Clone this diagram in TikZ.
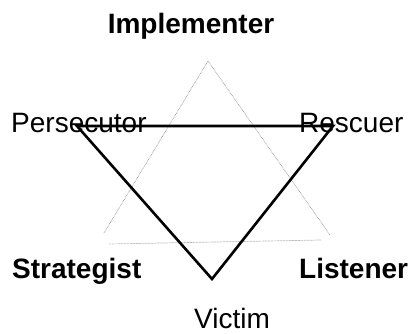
\documentclass[tikz,border=0pt]{standalone}
\usepackage{fontspec}
\setmainfont{Liberation Sans}
\usepackage{tikz}
\colorlet{roleline}{black}
\colorlet{guideline}{black!40}

\begin{document}
\begin{tikzpicture}[x=1pt,y=-1pt,
    label/.style={inner sep=0pt,font=\fontsize{28}{33}\selectfont},
    boldlabel/.style={label,font=\fontsize{28}{33}\selectfont\bfseries}]
  \useasboundingbox (0,0) rectangle (412,333);

  % outer roles
  \coordinate (top) at (208,61);
  \coordinate (ltop) at (104,233);
  \coordinate (rtop) at (330,235);
  \coordinate (lbase) at (109,244);
  \coordinate (rbase) at (321,240);

  % drama triangle
  \coordinate (pers) at (77,126);
  \coordinate (resc) at (333,126);
  \coordinate (vict) at (212,279);

  \draw[guideline,line width=0.7pt,dash pattern=on 0.7pt off 0.8pt]
    (ltop) -- (top) -- (rtop);
  \draw[guideline,line width=0.7pt,dash pattern=on 0.7pt off 0.8pt]
    (lbase) -- (rbase);

  \draw[roleline,line width=2.6pt,line join=miter]
    (pers) -- (resc) -- (vict) -- cycle;

  \node[boldlabel,anchor=base] (impl) at (191,33) {Implementer};
  \node[label,anchor=base west] (perslbl) at (11,132) {Persecutor};
  \node[label,anchor=base west] (resclbl) at (299,132) {Rescuer};
  \node[boldlabel,anchor=base west] (strat) at (12,278) {Strategist};
  \node[boldlabel,anchor=base west] (list) at (299,278) {Listener};
  \node[label,anchor=base west] (victlbl) at (194,328) {Victim};
\end{tikzpicture}
\end{document}
